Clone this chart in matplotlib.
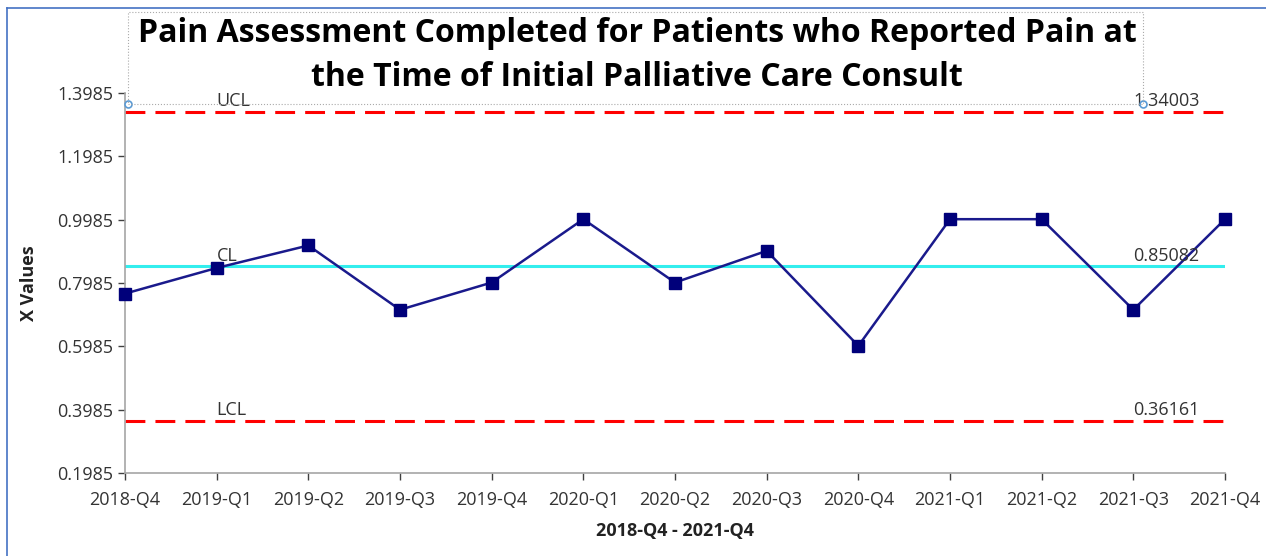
import matplotlib
matplotlib.use("Agg")
import matplotlib.pyplot as plt
from matplotlib.patches import Rectangle
from matplotlib.lines import Line2D

quarters = ["2018-Q4", "2019-Q1", "2019-Q2", "2019-Q3", "2019-Q4", "2020-Q1", "2020-Q2",
            "2020-Q3", "2020-Q4", "2021-Q1", "2021-Q2", "2021-Q3", "2021-Q4"]
values = [0.765, 0.846, 0.917, 0.714, 0.800, 1.000, 0.800, 0.900, 0.600, 1.000, 1.000, 0.714, 1.000]
ucl = 1.34003
cl = 0.85082
lcl = 0.36161
yticks = [0.1985, 0.3985, 0.5985, 0.7985, 0.9985, 1.1985, 1.3985]

plt.rcParams['font.family'] = ['Open Sans', 'DejaVu Sans']

fig = plt.figure(figsize=(12.66, 5.56), dpi=100)
ax = fig.add_axes([125/1266, 1-473/556, 1100/1266, 380/556])

x = list(range(len(quarters)))
ax.axhline(ucl, color='#ff0000', lw=2.2, dashes=(6.5, 3.3), zorder=2)
ax.axhline(lcl, color='#ff0000', lw=2.2, dashes=(6.5, 3.3), zorder=2)
ax.axhline(cl, color='#33eeee', lw=2.2, zorder=2)
ax.plot(x, values, color='#1a1a8c', lw=1.8, marker='s', markersize=8.5,
        markerfacecolor='#00007a', markeredgecolor='#00007a', zorder=3, clip_on=False)

ax.set_xlim(0, len(quarters)-1)
ax.set_ylim(0.1985, 1.3985)
ax.set_yticks(yticks)
ax.set_yticklabels([f"{t:.4f}" for t in yticks])
ax.set_xticks(x)
ax.set_xticklabels(quarters)
ax.tick_params(axis='both', labelsize=13, colors='#404040', length=5, width=1)
ax.tick_params(axis='x', pad=8)
for lab in ax.get_xticklabels() + ax.get_yticklabels():
    lab.set_color('#333333')
for s in ['top', 'right']:
    ax.spines[s].set_visible(False)
for s in ['left', 'bottom']:
    ax.spines[s].set_color('#a6a6a6')
    ax.spines[s].set_linewidth(1.2)

lbl = dict(fontsize=13, color='#333333', va='bottom')
ax.text(1.0, ucl+0.006, "UCL", ha='left', **lbl)
ax.text(1.0, cl+0.006, "CL", ha='left', **lbl)
ax.text(1.0, lcl+0.006, "LCL", ha='left', **lbl)
ax.text(11.0, ucl+0.006, f"{ucl:.5f}", ha='left', **lbl)
ax.text(11.0, cl+0.006, f"{cl:.5f}", ha='left', **lbl)
ax.text(11.0, lcl+0.006, f"{lcl:.5f}", ha='left', **lbl)

ax.set_xlabel("2018-Q4 - 2021-Q4", fontsize=13, fontweight='bold', color='#222222', labelpad=9)
ax.set_ylabel("X Values", fontsize=13, fontweight='bold', color='#222222', labelpad=14)

# title box
fig.patches.append(Rectangle((128/1266, 1-104/556), (1143-128)/1266, (104-12)/556,
                             transform=fig.transFigure, fill=False, ec='#aaaaaa',
                             lw=0.8, ls=':', zorder=5))
fig.text(637/1266, 1-33/556, "Pain Assessment Completed for Patients who Reported Pain at",
         ha='center', va='center', fontsize=23, fontweight='bold', color='black')
fig.text(637/1266, 1-77/556, "the Time of Initial Palliative Care Consult",
         ha='center', va='center', fontsize=23, fontweight='bold', color='black')
for hx in (128, 1143):
    fig.add_artist(Line2D([hx/1266], [1-104/556], transform=fig.transFigure, marker='o',
                          markersize=5, markerfacecolor='white', markeredgecolor='#5b9bd5',
                          markeredgewidth=1.2, lw=0))

# frame edges
fig.add_artist(Line2D([7/1266, 7/1266], [0, 1-8/556], transform=fig.transFigure, color='#4472c4', lw=1.2))
fig.add_artist(Line2D([7/1266, 1], [1-8/556, 1-8/556], transform=fig.transFigure, color='#4472c4', lw=1.2))

fig.savefig("out.png", dpi=100)
